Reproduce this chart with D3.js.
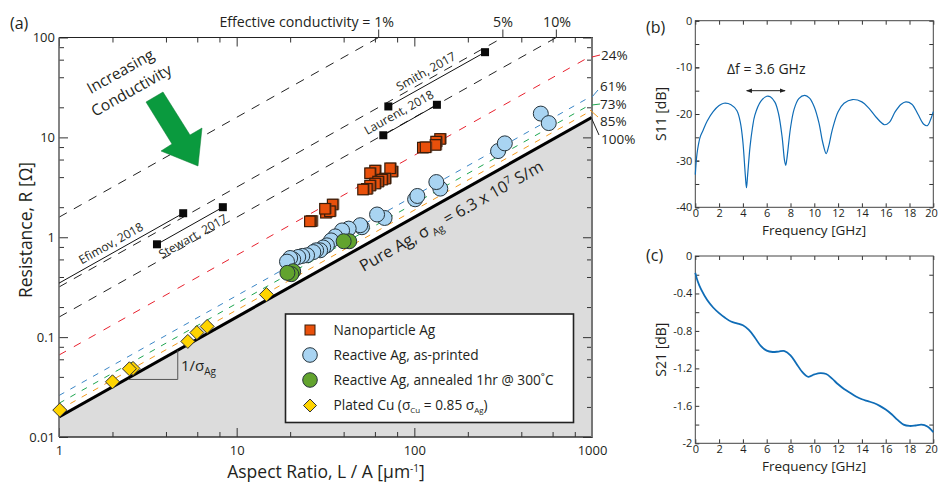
<!DOCTYPE html>
<html>
<head>
<meta charset="utf-8">
<script src="https://cdn.jsdelivr.net/npm/d3@7"></script>
<style>
  html, body { margin: 0; padding: 0; background: #fff; }
  svg { display: block; }
  text { font-family: "Open Sans", sans-serif; fill: #231f20; }
  .domain { display: none; }
  .tick line { stroke: #333; stroke-width: 1; }
</style>
</head>
<body>
<script>
// aspect ratio [1/um], resistance [ohm]
var nanoparticle = [[26.5,1.46],[25.9,1.45],[34.8,2.14],[31.9,1.77],[33.6,1.83],[31.5,1.94],
    [60.3,4.68],[56.5,4.40],[75.2,4.57],[73.3,4.93],[68.7,3.89],[66,3.80],[62.7,3.63],[60.3,3.47],
    [56.5,3.31],[54.2,3.07],[51.6,3.02],[140,9.7],[133,9.12],[132,8.45],[112,7.94],[116,8.0]];
var asPrinted = [[515,17.3],[571,13.9],[296,7.29],[323,8.71],[101,2.40],[104,2.59],[140,3.07],[133,3.57],
    [68,1.56],[61.7,1.69],[50.7,1.26],[49.6,1.32],[42.7,1.22],[39.2,1.17],[35.9,1.02],[34,0.93],[32.2,0.83],
    [30.7,0.79],[29.5,0.74],[28,0.74],[27,0.71],[24.9,0.66],[23.4,0.65],[22.2,0.635],[20.8,0.60],[20,0.62],[19.2,0.57]];
var annealed = [[20.8,0.457],[20.3,0.427],[19.3,0.44],[43,0.912],[40,0.912]];
var platedCu = [[1.01,0.0186],[2.0,0.0357],[2.61,0.0486],[2.49,0.0482],[5.31,0.0906],[5.97,0.111],[6.82,0.128],[14.7,0.267]];
var literature = [
    {name: "Efimov, 2018", pts: [[1,0.347],[5.0,1.74]]},
    {name: "Stewart, 2017", pts: [[3.56,0.85],[8.36,2.0]]},
    {name: "Smith, 2017", pts: [[71.4,20.4],[250,71.3]]},
    {name: "Laurent, 2018", pts: [[66.9,10.5],[134,21.2]]}
];
var conductivities = [1,5,10,24,61,73,85];
var confColors = ["#222","#222","#222","#e8212e","#3b86c6","#1fa650","#f39a1e"];
var sigmaAg = 6.3e7;

var freqS11 = [0,0.1,0.2,0.4,0.6,1,1.5,2,2.4,3,3.5,3.8,4,4.2,4.3,4.4,4.6,4.8,5,5.5,6,6.3,6.7,7,7.3,7.5,7.6,7.7,8,8.3,8.7,9.2,9.6,10,10.4,10.7,11,11.2,11.5,12,12.5,13.2,14,14.6,15.2,15.9,16.3,16.8,17.3,17.7,18.2,18.7,19.2,19.5,19.8,20];
var s11 = [-33,-29.5,-27.5,-25,-23.8,-21.5,-19.5,-18.2,-17.7,-18,-19.3,-22,-26,-33,-35.8,-33,-27,-23,-20.3,-17.3,-16.2,-16.3,-17.5,-20,-25,-30,-31,-29.5,-23,-19,-16.7,-16,-16.6,-18.5,-22,-26,-28.5,-27,-23.5,-19.5,-17.7,-16.9,-17.4,-18.8,-20.7,-22.3,-21.8,-19.5,-17.9,-17.4,-17.9,-20,-22.2,-22.5,-21,-19.5];
var freqS21 = [0,0.2,0.5,1,1.5,2,2.5,3,3.5,4,4.5,5,5.5,6,6.5,7,7.5,8,8.5,9,9.5,10,10.5,11,11.5,12,12.5,13,13.5,14,14.5,15,15.5,16,16.5,17,17.5,18,18.5,19,19.5,20];
var s21 = [-0.18,-0.27,-0.36,-0.47,-0.55,-0.61,-0.66,-0.7,-0.72,-0.74,-0.79,-0.87,-0.96,-1.01,-1.025,-1.02,-1.015,-1.06,-1.15,-1.24,-1.29,-1.265,-1.25,-1.26,-1.31,-1.37,-1.42,-1.46,-1.5,-1.53,-1.55,-1.57,-1.6,-1.64,-1.69,-1.75,-1.8,-1.815,-1.81,-1.8,-1.82,-1.88];

var logMajorX = [1,10,100,1000], logMajorY = [0.01,0.1,1,10,100];
var minorMult = [2,4,6,8];
var freqTicks = [0,2,4,6,8,10,12,14,16,18,20];

var svg = d3.select("body").append("svg").attr("width", 938).attr("height", 483);

// panel (a)
var a = {left: 59, right: 592, top: 37.5, bottom: 437};
var x = d3.scaleLog().domain([1,1000]).range([a.left, a.right]);
var y = d3.scaleLog().domain([0.01,100]).range([a.bottom, a.top]);
var Rof = function(ratio, pct) { return ratio * 1e6 / (sigmaAg * pct / 100); };

svg.append("clipPath").attr("id", "plotA").append("rect")
    .attr("x", a.left).attr("y", a.top).attr("width", a.right - a.left).attr("height", a.bottom - a.top);
var plot = svg.append("g").attr("clip-path", "url(#plotA)");

// grey region under pure Ag line
plot.append("path")
    .attr("fill", "#dcdcdc")
    .attr("d", d3.area().x(function(d) { return x(d); }).y0(a.bottom).y1(function(d) { return y(Rof(d, 100)); })([1,1000]));

var line = d3.line().x(function(d) { return x(d); });

conductivities.forEach(function(c, i) {
    plot.append("path")
        .attr("fill", "none")
        .attr("stroke", confColors[i])
        .attr("stroke-width", 1)
        .attr("stroke-dasharray", c < 24 ? "9,8" : c == 24 ? "8,9" : "6,7")
        .attr("d", line.y(function(d) { return y(Rof(d, c)); })([1,1000]));
});

plot.append("path")
    .attr("fill", "none").attr("stroke", "#000").attr("stroke-width", 3)
    .attr("d", line.y(function(d) { return y(Rof(d, 100)); })([1,1000]));

// slope triangle
plot.append("path")
    .attr("fill", "none").attr("stroke", "#555").attr("stroke-width", 1)
    .attr("d", d3.line().x(function(d) { return x(d[0]); }).y(function(d) { return y(d[1]); })([[2.45,0.0377],[4.66,0.0377],[4.66,0.0735]]));

// axes
var majorTop = d3.axisTop(x).tickValues(logMajorX).tickSize(-9).tickFormat("");
var majorBottom = d3.axisBottom(x).tickValues(logMajorX).tickSize(-9).tickFormat(d3.format("d")).tickPadding(9);
var majorLeft = d3.axisLeft(y).tickValues(logMajorY).tickSize(-9).tickFormat(function(d) { return d; }).tickPadding(4);
var majorRight = d3.axisRight(y).tickValues(logMajorY).tickSize(-9).tickFormat("");
var minorsX = [], minorsY = [];
logMajorX.slice(0,3).forEach(function(m) { minorMult.forEach(function(k) { minorsX.push(m*k); }); });
logMajorY.slice(0,4).forEach(function(m) { minorMult.forEach(function(k) { minorsY.push(m*k); }); });

function addAxis(g, tx, ty, ax) {
    return g.append("g").attr("transform", "translate(" + tx + "," + ty + ")").call(ax);
}
addAxis(svg, 0, a.top, d3.axisTop(x).tickValues(minorsX).tickSize(-5).tickFormat(""));
addAxis(svg, 0, a.bottom, d3.axisBottom(x).tickValues(minorsX).tickSize(-5).tickFormat(""));
addAxis(svg, a.left, 0, d3.axisLeft(y).tickValues(minorsY).tickSize(-5).tickFormat(""));
addAxis(svg, a.right, 0, d3.axisRight(y).tickValues(minorsY).tickSize(-5).tickFormat(""));
addAxis(svg, 0, a.top, majorTop);
addAxis(svg, 0, a.bottom, majorBottom).selectAll("text").style("font-size", "13px");
addAxis(svg, a.left, 0, majorLeft).selectAll("text").style("font-size", "13px");
addAxis(svg, a.right, 0, majorRight);

function spine(x1, y1, x2, y2, color, w) {
    svg.append("line").attr("x1", x1).attr("y1", y1).attr("x2", x2).attr("y2", y2)
        .attr("stroke", color).attr("stroke-width", w);
}
spine(a.left, a.top, a.right + 1, a.top, "#222", 1);
spine(a.left, a.bottom, a.right + 1, a.bottom, "#333", 1.3);
spine(a.left, a.top, a.left, a.bottom, "#666", 1.6);
spine(a.right, a.top, a.right, a.bottom, "#777", 2);

// literature points
var lits = svg.append("g");
literature.forEach(function(d) {
    lits.append("path").attr("fill", "none").attr("stroke", "#111").attr("stroke-width", 1)
        .attr("d", d3.line().x(function(p) { return x(p[0]); }).y(function(p) { return y(p[1]); })(d.pts));
    lits.selectAll(null).data(d.name == "Efimov, 2018" ? d.pts.slice(1) : d.pts).enter().append("rect")
        .attr("x", function(p) { return x(p[0]) - 4; })
        .attr("y", function(p) { return y(p[1]) - 4; })
        .attr("width", 8).attr("height", 8).attr("fill", "#0a0a0a");
});

// markers
function drawSquares(g, pts) {
    var sq = g.selectAll(null).data(pts).enter().append("g")
        .attr("transform", function(d) { return "translate(" + x(d[0]) + "," + y(d[1]) + ")"; });
    // the original squares have a soft dark edge on one side
    sq.append("rect").attr("x", -4.5).attr("y", -5.5).attr("width", 11).attr("height", 11)
        .attr("fill", "#5a3a28").attr("opacity", 0.7);
    sq.append("rect").attr("x", -5.5).attr("y", -5).attr("width", 10.5).attr("height", 10.5)
        .attr("fill", "#e9500b").attr("stroke", "#3a1c08").attr("stroke-width", 1.2);
}
function drawCircles(g, pts, fill, r) {
    g.selectAll(null).data(pts).enter().append("circle")
        .attr("cx", function(d) { return x(d[0]); })
        .attr("cy", function(d) { return y(d[1]); })
        .attr("r", r)
        .attr("fill", fill).attr("stroke", "#26343c").attr("stroke-width", 1);
}
var diamond = function(px, py, r) {
    return "M" + px + "," + (py - r) + "L" + (px + r) + "," + py + "L" + px + "," + (py + r) + "L" + (px - r) + "," + py + "Z";
};
var marks = svg.append("g");
drawSquares(marks, nanoparticle);
drawCircles(marks, asPrinted, "#a9d4f2", 7.5);
drawCircles(marks, annealed, "#62a32e", 7.5);
marks.selectAll(null).data(platedCu).enter().append("path")
    .attr("d", function(d) { return diamond(x(d[0]), y(d[1]), 7); })
    .attr("fill", "#ffd400").attr("stroke", "#333").attr("stroke-width", 1);

// text helper
function label(str, px, py, size, anchor, rot) {
    var t = svg.append("text").attr("font-size", size).attr("text-anchor", anchor || "start")
        .attr("transform", "translate(" + px + "," + py + ")" + (rot ? " rotate(" + rot + ")" : ""));
    if (str) t.text(str);
    return t;
}
function subbed(t, parts, size) {
    // parts: plain strings, or [text, dy] for small raised/lowered pieces
    parts.forEach(function(p) {
        if (typeof p == "string") { t.append("tspan").attr("dy", t.__back || 0).text(p); t.__back = 0; }
        else { t.append("tspan").attr("dy", p[1]).attr("font-size", size).text(p[0]); t.__back = -p[1]; }
    });
}

label("(a)", 10, 29, 16);
label("(b)", 646, 33, 16);
label("(c)", 646, 261, 16);

label("Resistance, R [Ω]", 32, 230, 17.5, "middle", -90);
subbed(label("", 326, 477.5, 17.5, "middle"), ["Aspect Ratio, L / A [µm", ["-1", -6], "]"], 10);

label("Effective conductivity = 1%", 394, 27, 14.2, "end");
label("5%", 503, 27, 14.2, "middle");
label("10%", 557, 27, 14.2, "middle");
svg.selectAll(null).data(conductivities.slice(0,3)).enter().append("line")
    .attr("x1", function(d) { return x(100 * sigmaAg * d / 100 / 1e6); })
    .attr("x2", function(d) { return x(100 * sigmaAg * d / 100 / 1e6); })
    .attr("y1", 29.5).attr("y2", a.top).attr("stroke", "#333");

var endLabels = [["24%", 601, 60], ["61%", 600, 91], ["73%", 600, 109], ["85%", 600, 126], ["100%", 601, 144]];
endLabels.forEach(function(d) { label(d[0], d[1], d[2], 13.5); });
[[592,57,600,55,"#e8212e"],[592,97,598,90,"#3b86c6"],[592,105,600,104,"#1fa650"],[590,110,598,117,"#f39a1e"],[591,117,599,135,"#222"]]
    .forEach(function(d) { spine(d[0], d[1], d[2], d[3], d[4], 1); });

var slopeAngle = -29.4;
label("Increasing", 123, 76, 15.5, "middle", slopeAngle);
label("Conductivity", 134, 95, 15.5, "middle", slopeAngle);
label("Efimov, 2018", 113, 247, 12, "middle", slopeAngle);
label("Stewart, 2017", 195, 240, 12, "middle", slopeAngle);
label("Smith, 2017", 428, 75, 12, "middle", slopeAngle);
label("Laurent, 2018", 401, 116, 12, "middle", slopeAngle);
subbed(label("", 454, 221, 16.2, "middle", slopeAngle), ["Pure Ag, σ", [" Ag", 4], " = 6.3 x 10", ["7", -6], " S/m"], 10.5);
subbed(label("", 181, 371, 15), ["1/σ", ["Ag", 4]], 10);

// big arrow
svg.append("path").attr("fill", "#0a9a3e").attr("stroke", "#0a7a32").attr("stroke-width", 0.5)
    .attr("d", "M146,102L163,92L190,135L202,128L198,166L161,151L172,144Z");

// legend
var lg = svg.append("g");
lg.append("rect").attr("x", 285.5).attr("y", 314).attr("width", 288).attr("height", 108.5)
    .attr("fill", "#fff").attr("stroke", "#222").attr("stroke-width", 1.6);
lg.append("rect").attr("x", 305).attr("y", 325).attr("width", 10).attr("height", 10)
    .attr("fill", "#e9500b").attr("stroke", "#3a1c08").attr("stroke-width", 1);
lg.append("circle").attr("cx", 310).attr("cy", 355).attr("r", 7.3).attr("fill", "#a9d4f2").attr("stroke", "#26343c");
lg.append("circle").attr("cx", 310).attr("cy", 380).attr("r", 7.3).attr("fill", "#62a32e").attr("stroke", "#26343c");
lg.append("path").attr("d", diamond(310, 405.5, 6.5)).attr("fill", "#ffd400").attr("stroke", "#333");
label("Nanoparticle Ag", 333.5, 335, 13.7);
label("Reactive Ag, as-printed", 333.5, 360, 13.7);
label("Reactive Ag, annealed 1hr @ 300˚C", 333.5, 385, 13.7);
subbed(label("", 333.5, 410, 13.7), ["Plated Cu (σ", ["Cu", 3], " = 0.85 σ", ["Ag", 3], ")"], 8);

// panels (b) and (c)
function freqPanel(top, bottom, domain, yMajor, yMinor, fmt, freq, vals, name, lineW) {
    var px = d3.scaleLinear().domain([0,20]).range([695.3, 933.3]);
    var py = d3.scaleLinear().domain(domain).range([top, bottom]);
    var g = svg.append("g");
    var bottomAxis = addAxis(g, 0, bottom, d3.axisBottom(px).tickValues(freqTicks).tickSize(-4).tickPadding(2).tickFormat(d3.format("d")));
    bottomAxis.selectAll("text").style("font-size", "11px");
    // last label would run off the window when centred
    bottomAxis.selectAll("text").filter(function(d) { return d == 20; }).attr("text-anchor", "end").attr("x", 4);
    addAxis(g, 0, top, d3.axisTop(px).tickValues(freqTicks).tickSize(-4).tickFormat(""));
    addAxis(g, 695.3, 0, d3.axisLeft(py).tickValues(yMinor).tickSize(-4).tickFormat(""));
    addAxis(g, 933.3, 0, d3.axisRight(py).tickValues(yMinor).tickSize(-4).tickFormat(""));
    addAxis(g, 695.3, 0, d3.axisLeft(py).tickValues(yMajor).tickSize(-4).tickPadding(3).tickFormat(fmt))
        .selectAll("text").style("font-size", "11px");
    g.append("rect").attr("x", 695.3).attr("y", top).attr("width", 238).attr("height", bottom - top)
        .attr("fill", "none").attr("stroke", "#444").attr("stroke-width", 1);
    g.append("path").datum(freq).attr("fill", "none").attr("stroke", "#0f6cb6").attr("stroke-width", lineW)
        .attr("d", d3.line().x(function(d) { return px(d); })
            .y(function(d, i) { return py(vals[i]); }).curve(d3.curveCatmullRom.alpha(0.5)));
    label("Frequency [GHz]", 814, bottom + 28, 13.5, "middle");
    label(name, 666, (top + bottom) / 2, 14, "middle", -90);
    return {x: px, y: py};
}
var b = freqPanel(20.7, 207.3, [0,-40], [0,-10,-20,-30,-40], d3.range(0,-41,-5), function(d) { return d; }, freqS11, s11, "S11 [dB]", 1.2);
freqPanel(256, 443.3, [0,-2], [0,-0.4,-0.8,-1.2,-1.6,-2], [-0.2,-0.6,-1,-1.4,-1.8], function(d) { return d; }, freqS21, s21, "S21 [dB]", 1.8);

// delta f marker
var bandF = [4.32, 7.54], bandDb = -15;
svg.append("defs").append("marker").attr("id", "tip").attr("viewBox", "0 0 8 6").attr("refX", 7).attr("refY", 3)
    .attr("markerWidth", 6).attr("markerHeight", 4.5).attr("orient", "auto-start-reverse")
    .append("path").attr("d", "M0,0L8,3L0,6Z").attr("fill", "#222");
svg.append("line").attr("x1", b.x(bandF[0])).attr("x2", b.x(bandF[1])).attr("y1", b.y(bandDb)).attr("y2", b.y(bandDb))
    .attr("stroke", "#222").attr("stroke-width", 1)
    .attr("marker-start", "url(#tip)").attr("marker-end", "url(#tip)");
label("Δf = 3.6 GHz", 727, 74, 14);
</script>
</body>
</html>
